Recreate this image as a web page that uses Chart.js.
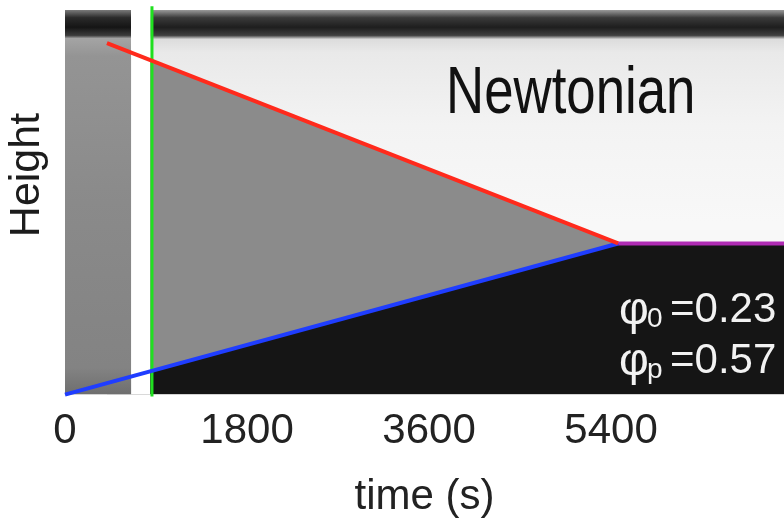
<!doctype html>
<html>
  <head>
    <script src="https://cdn.jsdelivr.net/npm/chart.js"></script>
    <meta name="viewport" content="width=device-width, initial-scale=1" />
    <style>
      html, body {
        margin: 0;
        padding: 0;
        background: #ffffff;
      }
      canvas {
        display: block;
      }
    </style>
  </head>
  <body>
    <canvas id="kymoChart" width="784" height="518"></canvas>
    <script>
      // time in seconds, height normalised to the frame (0 = bottom, 1 = top)
      const xTicks = [0, 1800, 3600, 5400];
      const redTime = [415, 5470];
      const redHeight = [0.914, 0.393];
      const blueTime = [0, 5470];
      const blueHeight = [0, 0.393];
      const plateauTime = [5470, 7110];
      const plateauHeight = [0.393, 0.393];
      const greenTime = [860, 860];
      const greenHeight = [-0.005, 1.01];
      const leftStripTime = [0, 653];
      const gapTime = [653, 845];
      const mainTime = [845, 7110];
      const frameTop = [1, 1];

      function pts(xs, ys) {
        return xs.map((x, i) => ({ x: x, y: ys[i] }));
      }

      function vGrad(ctx, area, stops) {
        const g = ctx.createLinearGradient(0, area.top, 0, area.bottom);
        stops.forEach((s) => g.addColorStop(s[0], s[1]));
        return g;
      }

      const leftStops = [
        [0, "#7a7a7a"], [0.02, "#2a2a2a"], [0.045, "#151515"], [0.066, "#3c3c3c"],
        [0.074, "#a4a4a4"], [0.12, "#949494"], [0.5, "#8a8a8a"], [0.93, "#838383"], [1, "#6e6e6e"],
      ];
      const mainStops = [
        [0, "#9a9a9a"], [0.02, "#3a3a3a"], [0.045, "#1e1e1e"], [0.066, "#404040"],
        [0.076, "#dcdcdc"], [0.11, "#e9e9e9"], [0.3, "#f3f3f3"], [0.55, "#f8f8f8"], [1, "#f8f8f8"],
      ];

      function fillSet(data, bg, order) {
        return {
          data: data,
          fill: "origin",
          backgroundColor: bg,
          borderColor: "rgba(0,0,0,0)",
          borderWidth: 1,
          pointRadius: 0,
          order: order,
        };
      }

      function lineSet(data, color, width, order) {
        return {
          data: data,
          fill: false,
          borderColor: color,
          borderWidth: width,
          pointRadius: 0,
          clip: false,
          order: order,
        };
      }

      const textPlugin = {
        id: "labels",
        afterDatasetsDraw(chart) {
          const ctx = chart.ctx;
          ctx.save();
          // y axis label, sits a bit above the frame centre like the original
          ctx.fillStyle = "#1c1c1c";
          ctx.font = "43px 'Liberation Sans', Arial, sans-serif";
          ctx.textAlign = "center";
          ctx.textBaseline = "middle";
          ctx.translate(27, 175);
          ctx.rotate(-Math.PI / 2);
          ctx.fillText("Height", 0, 0);
          ctx.setTransform(1, 0, 0, 1, 0, 0);

          // title inside the frame
          ctx.textAlign = "left";
          ctx.textBaseline = "alphabetic";
          ctx.fillStyle = "#111111";
          ctx.font = "66px 'Liberation Sans', Arial, sans-serif";
          ctx.translate(446, 113);
          ctx.scale(0.8, 1);
          ctx.fillText("Newtonian", 0, 0);
          ctx.setTransform(1, 0, 0, 1, 0, 0);

          ctx.fillStyle = "#f2f2f2";
          const rows = [
            ["0", "=0.23", 322],
            ["p", "=0.57", 373],
          ];
          rows.forEach((r) => {
            ctx.font = "46px 'Liberation Sans', Arial, sans-serif";
            ctx.fillText("φ", 619, r[2] + 2);
            ctx.font = "28px 'Liberation Sans', Arial, sans-serif";
            ctx.fillText(r[0], 647, r[2] + 5);
            ctx.font = "42px 'Liberation Sans', Arial, sans-serif";
            ctx.fillText(r[1], 670, r[2]);
          });
          ctx.restore();
        },
      };

      const ctx = document.getElementById("kymoChart").getContext("2d");
      const kymoChart = new Chart(ctx, {
        type: "line",
        data: {
          datasets: [
            lineSet(pts(redTime, redHeight), "#ff2a1c", 4, 0),
            lineSet(pts(blueTime, blueHeight), "#1f3dff", 4, 1),
            lineSet(pts(plateauTime, plateauHeight), "#b02cb4", 4, 2),
            lineSet(pts(greenTime, greenHeight), "#1fe01f", 3, 3),
            fillSet(pts(leftStripTime, frameTop), (c) => {
              const a = c.chart.chartArea;
              return a ? vGrad(c.chart.ctx, a, leftStops) : "#8a8a8a";
            }, 6),
            fillSet(pts(gapTime, frameTop), "#ffffff", 7),
            fillSet(pts(blueTime.concat(plateauTime), blueHeight.concat(plateauHeight)), "#151515", 8),
            fillSet(pts(redTime.concat(plateauTime), redHeight.concat(plateauHeight)), "#8b8b8b", 9),
            fillSet(pts(mainTime, frameTop), (c) => {
              const a = c.chart.chartArea;
              return a ? vGrad(c.chart.ctx, a, mainStops) : "#f4f4f4";
            }, 10),
          ],
        },
        options: {
          responsive: false,
          animation: false,
          layout: { padding: { top: 10, left: 65, right: 0, bottom: 0 } },
          plugins: {
            legend: { display: false },
            tooltip: { enabled: false },
          },
          scales: {
            x: {
              type: "linear",
              min: 0,
              max: 7110,
              grid: { display: false, drawTicks: false },
              border: { display: false },
              afterBuildTicks: (scale) => {
                scale.ticks = xTicks.map((v) => ({ value: v }));
              },
              ticks: {
                autoSkip: false,
                maxRotation: 0,
                padding: 12,
                color: "#222222",
                callback: (v) => String(v),
                font: { family: "'Liberation Sans', Arial, sans-serif", size: 42 },
              },
              title: {
                display: true,
                text: "time (s)",
                color: "#222222",
                padding: { top: 7, bottom: 0 },
                font: { family: "'Liberation Sans', Arial, sans-serif", size: 42, lineHeight: 1.0 },
              },
            },
            y: {
              display: false,
              min: 0,
              max: 1,
            },
          },
        },
        plugins: [textPlugin],
      });
    </script>
  </body>
</html>
